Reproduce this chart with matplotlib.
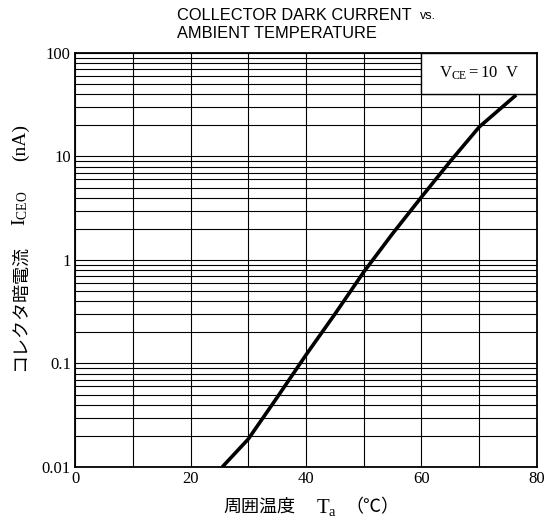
import numpy as np
import matplotlib
matplotlib.use("Agg")
import matplotlib.pyplot as plt
from matplotlib.patches import Rectangle
from matplotlib.ticker import LogLocator, FixedLocator, NullFormatter

# values
temp = [25.5, 30, 35, 40, 45, 50, 55, 60, 65, 70, 76.4]
iceo = [0.01, 0.0186, 0.047, 0.121, 0.30, 0.766, 1.8, 4.06, 9.0, 19.3, 39.3]

x_ticks = [0, 20, 40, 60, 80]
y_ticks = [0.01, 0.1, 1, 10, 100]
y_tick_labels = ["0.01", "0.1", "1", "10", "100"]

plt.rcParams['mathtext.fontset'] = 'custom'
plt.rcParams['mathtext.rm'] = 'Liberation Serif'
plt.rcParams['mathtext.it'] = 'Liberation Serif:italic'

serif = 'Liberation Serif'
cjk = ['Noto Sans CJK JP', 'DejaVu Sans']

fig = plt.figure(figsize=(5.54, 5.24), dpi=100)
ax = fig.add_axes([0.1354, 0.1088, 0.8339, 0.7901])

ax.set_yscale('log')
ax.set_xlim(0, 80)
ax.set_ylim(0.01, 100)

ax.xaxis.set_major_locator(FixedLocator(x_ticks))
ax.xaxis.set_minor_locator(FixedLocator(np.arange(10, 80, 20)))
ax.yaxis.set_major_locator(FixedLocator(y_ticks))
ax.yaxis.set_minor_locator(LogLocator(base=10, subs=np.arange(2, 10)))
ax.yaxis.set_minor_formatter(NullFormatter())
ax.set_yticklabels(y_tick_labels)

ax.grid(which='both', color='black', lw=0.8)
ax.set_axisbelow(True)
ax.tick_params(which='both', length=0, pad=3)
for lab in ax.get_xticklabels() + ax.get_yticklabels():
    lab.set_fontfamily(serif)
    lab.set_fontsize(12)
for sp in ax.spines.values():
    sp.set_linewidth(1.3)

# condition box in the top right corner
ax.add_patch(Rectangle((60, 40), 20, 60, facecolor='white', edgecolor='black',
                       lw=1.0, zorder=2))
ax.text(70, 63, r"V$_{\mathrm{CE}}$$=$10  V", ha='center', va='center',
        fontsize=12, fontfamily=serif, zorder=4)

ax.plot(temp, iceo, color='black', lw=2.6, zorder=3, solid_capstyle='butt')

# title
fig.text(177/554, 1 - 15/524, "COLLECTOR DARK CURRENT", fontsize=11.8,
         fontfamily='Liberation Sans', ha='left', va='center')
fig.text(420/554, 1 - 16/524, "vs.", fontsize=9,
         fontfamily='Liberation Sans', ha='left', va='center')
fig.text(177/554, 1 - 33/524, "AMBIENT TEMPERATURE", fontsize=11.8,
         fontfamily='Liberation Sans', ha='left', va='center')

# x label
fig.text(259/554, 1 - 507/524, "周囲温度", fontsize=13, family=cjk,
         ha='center', va='center')
fig.text(327/554, 1 - 507/524, r"T$_{\mathrm{a}}$", fontsize=15,
         fontfamily=serif, ha='center', va='center')
fig.text(372/554, 1 - 507/524, "（℃）", fontsize=13, family=cjk,
         ha='center', va='center')

# y label
fig.text(20/554, 1 - 308/524, "コレクタ暗電流", fontsize=13, family=cjk,
         rotation=90, ha='center', va='center')
fig.text(20/554, 1 - 208/524, r"I$_{\mathrm{CEO}}$", fontsize=14,
         fontfamily=serif, rotation=90, ha='center', va='center')
fig.text(20/554, 1 - 142/524, "(nA)", fontsize=14,
         fontfamily=serif, rotation=90, ha='center', va='center')

fig.savefig("out.png", dpi=100)
